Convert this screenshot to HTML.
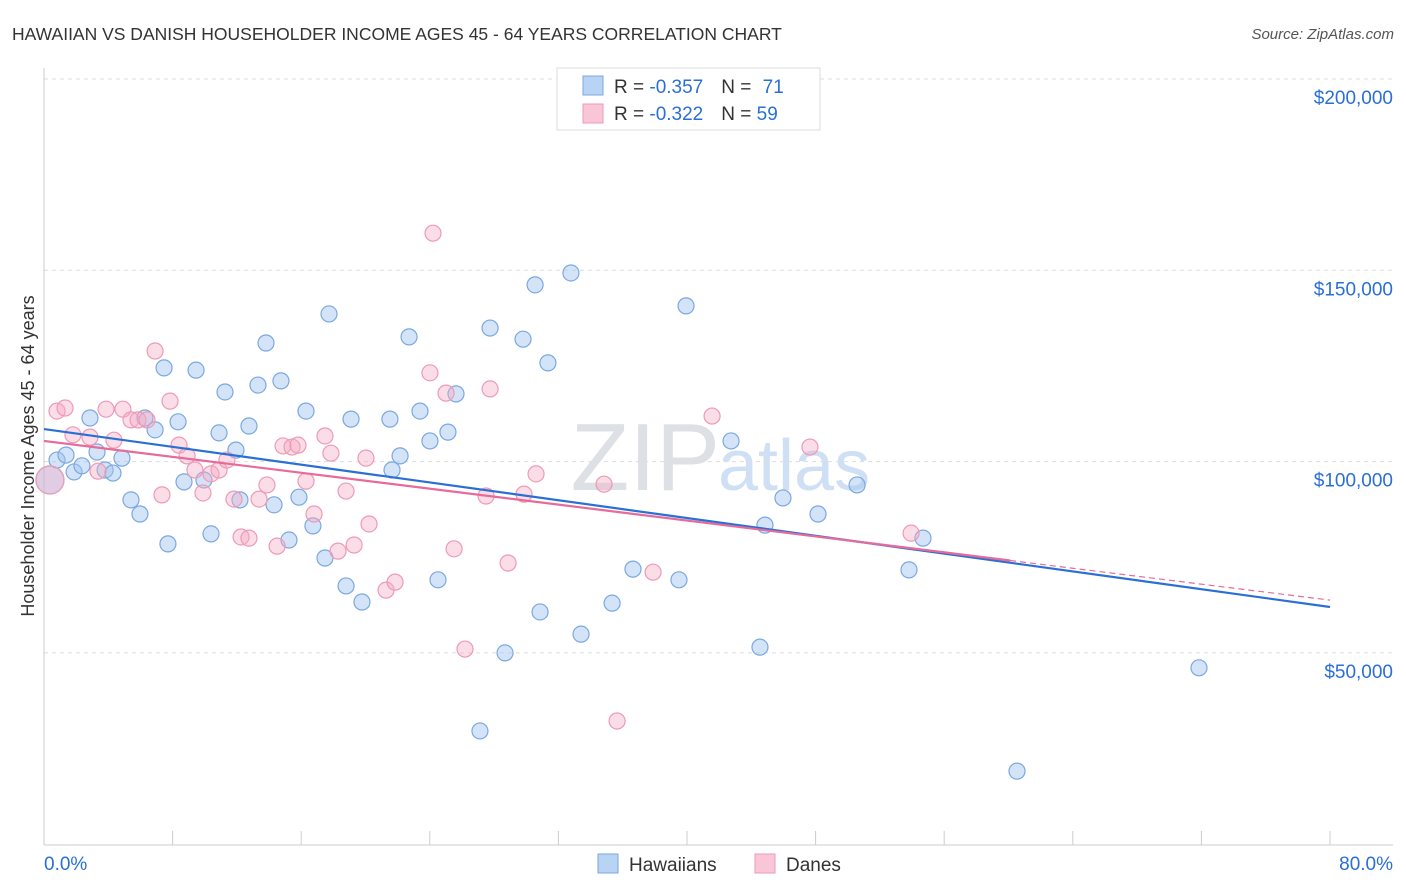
<!DOCTYPE html>
<html><head><meta charset="utf-8">
<style>
body{margin:0;background:#fff;font-family:"Liberation Sans",sans-serif;}
#wrap{position:relative;width:1406px;height:892px;overflow:hidden;}
svg text{font-family:"Liberation Sans",sans-serif;}
</style></head>
<body>
<div id="wrap">
<svg id="chart" width="1406" height="892" xmlns="http://www.w3.org/2000/svg">
<text x="12" y="40" font-size="17.5" fill="#333">HAWAIIAN VS DANISH HOUSEHOLDER INCOME AGES 45 - 64 YEARS CORRELATION CHART</text>
<text x="1394" y="39" font-size="15" fill="#555" font-style="italic" text-anchor="end">Source: ZipAtlas.com</text>
<text x="720" y="490" font-size="96" fill="#dde0e4" text-anchor="end" font-family="Liberation Serif">ZIP</text>
<text x="718" y="490" font-size="72" fill="#cfe0f4">atlas</text>
<g id="grid"></g>
<g id="axes"></g>
<g id="pts"></g>
<g id="lines"></g>
<text transform="translate(34,456) rotate(-90)" font-size="18" fill="#333" text-anchor="middle">Householder Income Ages 45 - 64 years</text>
<g>
<rect x="557" y="68" width="263" height="62" fill="#fff" stroke="#ddd"/>
<rect x="583" y="76" width="20" height="19" fill="#b8d3f4" stroke="#7aa8e0"/>
<rect x="583" y="104" width="20" height="19" fill="#f8c6d6" stroke="#ee9ab5"/>
<text x="614" y="93" font-size="19" fill="#333">R = <tspan fill="#2a6fd6">-0.357</tspan><tspan dx="18">N = </tspan><tspan dx="6" fill="#2a6fd6">71</tspan></text>
<text x="614" y="120" font-size="19" fill="#333">R = <tspan fill="#2a6fd6">-0.322</tspan><tspan dx="18">N = </tspan><tspan fill="#2a6fd6">59</tspan></text>
</g>
<g>
<rect x="598" y="854" width="20" height="19" fill="#b8d3f4" stroke="#7aa8e0"/>
<text x="629" y="871" font-size="19" fill="#333">Hawaiians</text>
<rect x="755" y="854" width="20" height="19" fill="#f8c6d6" stroke="#ee9ab5"/>
<text x="786" y="871" font-size="19" fill="#333">Danes</text>
</g>
</svg>
</div>
<script>
const yTicks=[50,100,150,200];
const yTickLabels=["$50,000","$100,000","$150,000","$200,000"];
const xTickLabels=["0.0%","80.0%"];
const blueX=[0.37,0.81,1.37,1.87,2.36,2.86,3.30,3.80,4.29,4.85,5.41,5.97,6.28,6.91,7.47,7.71,8.34,8.71,9.46,9.95,10.39,10.89,11.26,11.94,12.19,12.75,13.31,13.81,14.31,14.74,15.24,15.86,16.30,16.73,17.48,17.73,18.79,19.10,19.78,21.52,21.65,22.15,22.71,23.39,24.01,24.51,25.13,25.63,27.12,27.75,28.68,29.80,30.55,30.86,31.35,32.78,33.41,35.34,36.64,39.50,39.94,42.74,44.54,45.97,44.85,48.15,50.58,53.81,54.68,60.53,71.85];
const blueY=[95.2,100.4,101.7,97.3,98.9,111.4,102.5,97.8,97.0,100.9,90.0,86.3,111.4,108.3,124.5,78.5,110.4,94.7,123.9,95.2,81.1,107.5,118.2,103.0,90.0,109.3,120.0,131.0,88.7,121.1,79.5,90.7,113.2,83.2,74.8,138.6,67.5,111.1,63.3,111.1,97.8,101.5,132.6,113.2,105.4,69.1,107.7,117.7,29.6,134.9,50.0,132.0,146.2,60.7,125.8,149.3,54.9,63.0,71.9,69.1,140.7,105.4,51.5,90.5,83.4,86.3,93.9,71.7,80.0,19.1,46.1];
const pinkX=[0.37,0.81,1.31,1.80,2.86,3.36,3.86,4.35,4.91,5.41,5.85,6.41,6.91,7.34,7.84,8.40,8.90,9.39,9.89,10.39,10.89,11.38,11.82,12.26,12.75,13.38,13.87,14.50,14.87,15.43,15.80,16.30,16.80,17.48,17.85,18.29,18.79,19.29,20.03,20.22,21.28,21.84,24.01,24.20,25.01,25.51,26.19,27.50,27.75,28.87,29.86,30.61,34.84,35.65,37.89,41.56,47.65,53.94];
const pinkY=[95.2,113.2,114.0,107.0,106.4,97.5,113.7,105.6,113.7,110.9,110.9,110.9,128.9,91.3,115.8,104.3,101.5,97.8,91.8,96.8,97.8,100.4,90.2,80.3,80.0,90.2,93.9,77.9,104.1,103.8,104.3,94.9,86.3,106.7,102.2,76.6,92.3,78.2,100.9,83.7,66.4,68.5,123.2,159.7,117.9,77.2,51.0,91.0,119.0,73.5,91.5,96.8,94.1,32.2,71.1,111.9,103.8,81.3];
const blueTrend=[108.5,62.0];
const pinkTrend=[105.4,63.8];
const pinkSolidEnd=60.1;
const X=p=>44+p/80*1286;
const Y=v=>79+(200-v)/50*191.3;
const NS="http://www.w3.org/2000/svg";
function mk(tag,attrs,parent){const e=document.createElementNS(NS,tag);for(const k in attrs)e.setAttribute(k,attrs[k]);parent.appendChild(e);return e;}
const grid=document.getElementById('grid'),axes=document.getElementById('axes'),pts=document.getElementById('pts'),lines=document.getElementById('lines');
yTicks.forEach((t,i)=>{
 const l=mk('line',{x1:44,x2:1393,y1:Y(t),y2:Y(t),stroke:'#ddd','stroke-dasharray':'4,4'},grid);
 
 
 const tx=mk('text',{x:1393,y:Y(t)+25,'font-size':19,fill:'#2a6fd6','text-anchor':'end'},grid);
 tx.textContent=yTickLabels[i];
 
 
});
const ya=mk('line',{x1:44,x2:44,y1:68,y2:845,stroke:'#ccc'},axes);


const xa=mk('line',{x1:44,x2:1393,y1:845,y2:845,stroke:'#ccc'},axes);


for(let k=1;k<=10;k++){
 const t=mk('line',{x1:X(k*8),x2:X(k*8),y1:831,y2:845,stroke:'#ccc'},axes);
 
 
}
[[0,'start',44],[80,'end',1393]].forEach((d,i)=>{
 const t=mk('text',{x:d[2],y:870,'font-size':19,fill:'#2a6fd6','text-anchor':d[1]},axes);
 t.textContent=xTickLabels[i];
 
 
});
function dots(xs,ys,fill,stroke,name){
 xs.forEach((x,i)=>{
  const c=mk('circle',{cx:X(x),cy:Y(ys[i]),r:i===0?14:8,fill:fill,stroke:stroke,'stroke-width':1.2},pts);
  
  
 });
}
dots(blueX,blueY,'rgba(160,196,240,0.45)','#7aa8e0','hawaiian-point');
dots(pinkX,pinkY,'rgba(245,170,195,0.4)','#ee9ab5','danish-point');
const bl=mk('line',{x1:X(0),y1:Y(blueTrend[0]),x2:X(80),y2:Y(blueTrend[1]),stroke:'#2a6fd6','stroke-width':2.2},lines);


const py=p=>pinkTrend[0]+(pinkTrend[1]-pinkTrend[0])*p/80;
const pl=mk('line',{x1:X(0),y1:Y(pinkTrend[0]),x2:X(pinkSolidEnd),y2:Y(py(pinkSolidEnd)),stroke:'#e66a9a','stroke-width':2.2},lines);


const pd=mk('line',{x1:X(pinkSolidEnd),y1:Y(py(pinkSolidEnd)),x2:X(80),y2:Y(pinkTrend[1]),stroke:'#e66a9a','stroke-width':1.2,'stroke-dasharray':'6,4'},lines);


</script>
</body></html>
